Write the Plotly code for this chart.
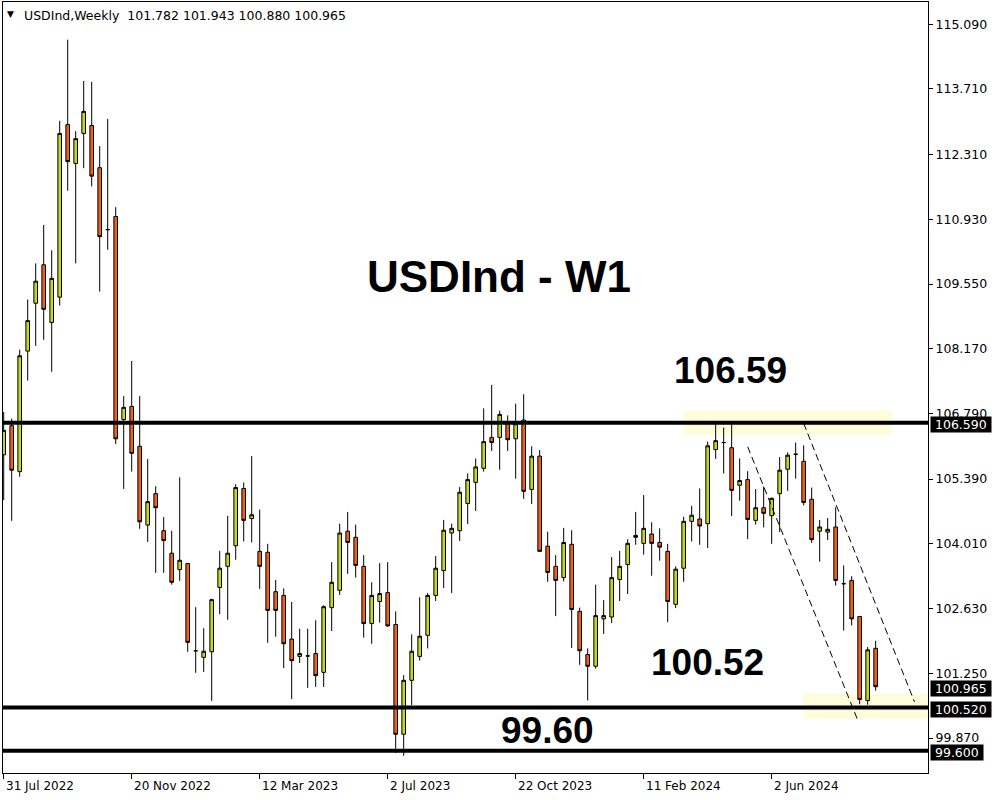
import pandas as pd
import plotly.graph_objects as go

symbol = "USDInd"
timeframe = "Weekly"
chart_title = "USDInd - W1"
first_week = "2022-07-31"

opens = [105.91, 106.53, 105.55, 108.12, 109.14, 109.96, 108.73, 109.27, 112.95, 112.12,
         112.76, 112.93, 112.03, 110.71, 110.99, 106.66, 106.94, 106.09, 104.41, 105.08,
         104.29, 103.81, 103.46, 103.59, 101.73, 101.59, 101.71, 103.08, 103.53, 103.97,
         105.19, 104.55, 103.85, 103.83, 102.99, 102.91, 101.98, 101.61, 101.62, 101.67,
         101.27, 102.65, 103.02, 104.28, 104.15, 103.53, 102.31, 102.78, 102.97, 102.29,
         99.95, 101.10, 101.61, 102.06, 102.91, 103.44, 104.24, 104.29, 104.87, 105.32,
         105.62, 106.28, 106.28, 106.57, 106.25, 106.65, 105.17, 105.88, 103.96, 103.53,
         103.29, 104.00, 102.57, 101.65, 101.40, 102.41, 102.45, 103.25, 103.57, 104.19,
         104.02, 104.22, 104.04, 103.85, 102.72, 103.49, 104.49, 104.54, 104.44, 106.02,
         106.17, 106.06, 105.26, 105.38, 104.51, 104.78, 104.61, 105.08, 105.60, 105.92,
         105.77, 104.96, 104.28, 104.26, 104.37, 103.16, 103.23, 102.46, 100.67, 101.782]
highs = [106.82, 106.68, 108.15, 109.22, 109.99, 110.81, 110.27, 113.03, 114.76, 112.81,
         113.88, 113.86, 112.49, 113.07, 111.19, 107.16, 107.91, 107.16, 105.82, 105.24,
         104.58, 104.29, 105.43, 103.60, 102.66, 102.21, 102.84, 103.86, 104.61, 105.28,
         105.32, 105.88, 104.74, 104.01, 103.24, 103.06, 102.77, 102.20, 102.20, 102.38,
         102.70, 103.62, 104.44, 104.69, 104.42, 103.77, 103.19, 103.60, 103.62, 102.57,
         101.21, 102.08, 102.87, 102.96, 103.75, 104.52, 104.44, 105.22, 105.51, 105.83,
         106.90, 107.40, 106.85, 106.75, 107.00, 107.20, 106.09, 106.01, 104.27, 103.77,
         104.35, 104.30, 102.65, 101.78, 103.14, 102.81, 103.73, 103.86, 104.11, 104.69,
         105.05, 104.47, 104.34, 104.01, 103.53, 104.59, 104.82, 105.19, 106.19, 106.57,
         106.49, 106.57, 105.83, 105.56, 105.18, 105.23, 105.00, 105.86, 105.96, 106.17,
         106.11, 105.21, 104.52, 104.56, 104.79, 103.55, 103.32, 102.47, 101.81, 101.943]
lows = [104.94, 104.50, 105.44, 107.49, 108.23, 108.36, 107.68, 109.09, 111.54, 109.99,
        112.02, 111.63, 109.39, 110.28, 106.14, 105.18, 105.55, 104.33, 104.05, 103.39,
        103.39, 103.14, 103.22, 101.71, 101.26, 101.28, 100.66, 102.51, 102.39, 103.67,
        104.06, 104.04, 103.05, 101.90, 102.03, 101.36, 100.70, 101.47, 100.94, 100.96,
        100.96, 102.15, 102.92, 103.37, 103.29, 102.01, 101.88, 102.33, 102.24, 99.55,
        99.49, 100.57, 101.52, 101.78, 102.79, 103.07, 102.96, 104.07, 104.43, 104.71,
        105.55, 105.99, 105.59, 105.99, 105.40, 104.97, 104.86, 103.84, 103.20, 102.47,
        103.21, 101.79, 101.43, 100.67, 101.35, 102.09, 102.32, 102.79, 102.94, 103.99,
        103.78, 103.33, 103.65, 102.34, 102.64, 103.20, 104.06, 103.99, 103.92, 105.82,
        105.51, 104.60, 104.93, 104.11, 104.42, 104.36, 104.01, 104.26, 105.14, 105.40,
        104.83, 104.03, 103.63, 104.09, 103.12, 102.16, 102.27, 100.59, 100.58, 100.880]
closes = [106.43, 105.58, 108.02, 108.77, 109.61, 109.01, 109.67, 112.76, 112.16, 112.65,
          113.23, 111.85, 110.56, 110.71, 106.25, 106.92, 105.94, 104.48, 104.91, 104.78,
          104.08, 103.19, 103.66, 101.91, 101.73, 101.72, 102.82, 103.49, 103.81, 105.21,
          104.51, 104.63, 103.53, 102.59, 102.59, 101.88, 101.52, 101.67, 101.62, 101.20,
          102.67, 103.19, 104.24, 104.04, 103.55, 102.31, 102.91, 102.95, 102.26, 99.95,
          101.10, 101.72, 102.04, 102.91, 103.49, 104.30, 104.34, 105.11, 105.38, 105.65,
          106.19, 106.17, 106.77, 106.23, 106.57, 105.13, 105.88, 103.85, 103.40, 103.23,
          104.04, 102.61, 101.73, 101.40, 102.48, 102.48, 103.29, 103.53, 104.02, 104.15,
          104.34, 104.02, 103.94, 102.78, 103.47, 104.49, 104.62, 104.39, 106.10, 106.21,
          106.17, 105.15, 105.36, 104.53, 104.78, 104.66, 104.98, 105.58, 105.90, 105.92,
          104.89, 104.10, 104.37, 104.32, 103.23, 103.16, 102.41, 100.69, 101.75, 100.965]

levels = [106.59, 100.52, 99.60]
level_texts = ["106.59", "100.52", "99.60"]

ytick_vals = [115.090, 113.710, 112.310, 110.930, 109.550, 108.170,
              106.790, 105.390, 104.010, 102.630, 101.250, 99.870]
xtick_dates = ["2022-07-31", "2022-11-20", "2023-03-12", "2023-07-02",
               "2023-10-22", "2024-02-11", "2024-06-02"]
xtick_texts = ["31 Jul 2022", "20 Nov 2022", "12 Mar 2023", "2 Jul 2023",
               "22 Oct 2023", "11 Feb 2024", "2 Jun 2024"]

# highlight zones: (x0, x1, y0, y1)
zone_x0 = ["2024-03-17", "2024-06-30"]
zone_x1 = ["2024-09-15", "2024-10-27"]
zone_y0 = [106.33, 100.28]
zone_y1 = [106.86, 100.81]

# falling channel (dashed)
chan_x0 = ["2024-06-30", "2024-05-12"]
chan_y0 = [106.58, 106.08]
chan_x1 = ["2024-10-05", "2024-08-17"]
chan_y1 = [100.64, 100.21]

BULL = "#c3d62b"
BEAR = "#f05f22"
ZONE = "#fffcdc"

dates = pd.date_range(first_week, periods=len(opens), freq="7D")
d0 = pd.Timestamp(first_week)

fig = go.Figure()
fig.add_trace(go.Candlestick(
    x=dates, open=opens, high=highs, low=lows, close=closes,
    increasing=dict(fillcolor=BULL, line=dict(color="black", width=1)),
    decreasing=dict(fillcolor=BEAR, line=dict(color="black", width=1)),
    whiskerwidth=0, showlegend=False, hoverinfo="skip",
))

shapes = []
for x0, x1, y0, y1 in zip(zone_x0, zone_x1, zone_y0, zone_y1):
    shapes.append(dict(type="rect", xref="x", yref="y", x0=x0, x1=x1, y0=y0, y1=y1,
                       fillcolor=ZONE, line=dict(width=0), layer="below"))
for lv in levels:
    shapes.append(dict(type="line", xref="paper", yref="y", x0=0, x1=1, y0=lv, y1=lv,
                       line=dict(color="black", width=4), layer="above"))
for x0, y0, x1, y1 in zip(chan_x0, chan_y0, chan_x1, chan_y1):
    shapes.append(dict(type="line", xref="x", yref="y", x0=x0, y0=y0, x1=x1, y1=y1,
                       line=dict(color="black", width=1, dash="7px,4px"), layer="above"))

annotations = []
# price labels on the axis
axis_labels = [levels[0], closes[-1], levels[1], levels[2]]
for v in axis_labels:
    annotations.append(dict(xref="paper", yref="y", x=1, y=v, xanchor="left", yanchor="middle",
                            xshift=2, yshift=-2, showarrow=False,
                            text="\u00a0" + f"{v:.3f}" + "\u00a0",
                            font=dict(family="DejaVu Sans", size=12.5, color="white"),
                            bgcolor="black", borderpad=0))
# date labels
for dt, tx in zip(xtick_dates, xtick_texts):
    annotations.append(dict(xref="x", yref="paper", x=dt, y=0, xanchor="left", yanchor="top",
                            yshift=-4, showarrow=False, text=tx,
                            font=dict(family="DejaVu Sans", size=12, color="black")))
# header
annotations.append(dict(xref="paper", yref="paper", x=0, y=1, xanchor="left", yanchor="top",
                        xshift=2, yshift=-5, showarrow=False, text="\u25bc",
                        font=dict(family="DejaVu Sans", size=9, color="black")))
header = f"{symbol},{timeframe}\u00a0\u00a0{opens[-1]:.3f} {highs[-1]:.3f} {lows[-1]:.3f} {closes[-1]:.3f}"
annotations.append(dict(xref="paper", yref="paper", x=0, y=1, xanchor="left", yanchor="top",
                        xshift=19, yshift=-4, showarrow=False, text=header,
                        font=dict(family="DejaVu Sans", size=12.5, color="black")))
# big texts
big = dict(family="Liberation Sans", color="black")
annotations.append(dict(xref="paper", yref="paper", x=0.5362, y=0.6481, showarrow=False,
                        text=f"<b>{chart_title}</b>", font=dict(size=44, **big),
                        xanchor="center", yanchor="middle", yshift=-3))
text_pos = [(0.787, 0.526), (0.762, 0.1468), (0.589, 0.0584)]
for (px, py), t in zip(text_pos, level_texts):
    annotations.append(dict(xref="paper", yref="paper", x=px, y=py, showarrow=False,
                            text=f"<b>{t}</b>", font=dict(size=37, **big),
                            xanchor="center", yanchor="middle", yshift=-3))

fig.update_layout(
    width=1000, height=800,
    margin=dict(l=3, r=72, t=2, b=27),
    paper_bgcolor="white", plot_bgcolor="white",
    shapes=shapes, annotations=annotations,
    showlegend=False,
    boxgap=0.35, boxgroupgap=0.3,
    xaxis=dict(type="date",
               range=[d0 - pd.Timedelta(days=0.61), d0 + pd.Timedelta(days=808.8)],
               rangeslider=dict(visible=False),
               showgrid=False, zeroline=False,
               showline=True, mirror=True, linecolor="black", linewidth=1,
               tickmode="array", tickvals=xtick_dates, ticks="outside", ticklen=5,
               tickcolor="black", showticklabels=False),
    yaxis=dict(side="right", range=[99.124, 115.563],
               showgrid=False, zeroline=False,
               showline=True, mirror=True, linecolor="black", linewidth=1,
               tickmode="array", tickvals=ytick_vals,
               ticktext=[f"{v:.3f}" for v in ytick_vals],
               ticks="outside", ticklen=4, tickcolor="black",
               tickfont=dict(family="DejaVu Sans", size=12.5, color="black")),
)

fig.write_html("out.html", config={"displayModeBar": False},
               post_script="document.body.style.margin='0';document.body.style.overflow='hidden';")
